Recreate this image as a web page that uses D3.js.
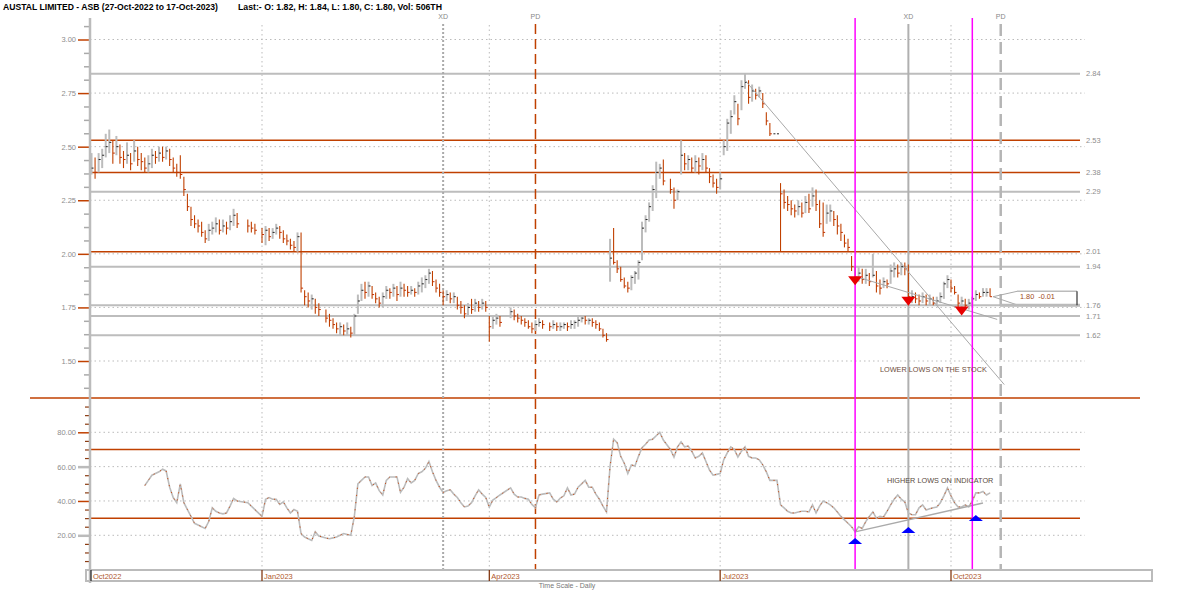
<!DOCTYPE html>
<html><head><meta charset="utf-8">
<script src="https://cdn.jsdelivr.net/npm/d3@7"></script>
<style>body{margin:0;background:#fff}svg{display:block}text{font-family:"Liberation Sans",Arial,sans-serif}</style>
</head><body><svg id="c" width="1200" height="590"></svg>
<script>
// ---------------- DATA ----------------
const startDate = "2022-10-27", endDate = "2023-10-17";
const holidays = ["2022-12-26","2022-12-27","2023-01-02","2023-01-26","2023-04-07","2023-04-10","2023-04-25","2023-06-12"];
const closes = [
 2.40,2.38,2.44,
 2.46,2.50,2.52,2.47,2.50,2.45,2.44,2.46,2.42,2.48,2.44,2.43,2.40,2.42,2.46,2.45,2.47,2.45,2.48,2.44,2.40,2.38,
 2.37,2.30,2.22,2.16,2.14,2.13,2.10,2.07,2.11,2.12,2.14,2.11,2.13,2.12,2.15,2.18,2.14,2.13,2.12,2.11,
 2.09,2.11,2.08,2.10,2.12,2.10,2.07,2.06,2.04,2.03,2.08,1.84,1.80,1.78,1.79,1.75,1.74,1.70,1.69,1.67,
 1.65,1.66,1.64,1.65,1.63,1.71,1.78,1.83,1.82,1.85,1.81,1.79,1.77,1.80,1.83,1.82,1.84,1.81,1.84,1.83,
 1.82,1.83,1.82,1.85,1.86,1.88,1.91,1.87,1.84,1.82,1.80,1.81,1.79,1.80,1.76,1.75,1.72,1.75,1.74,1.77,1.75,1.77,1.75,
 1.66,1.69,1.70,1.68,1.73,1.71,1.70,1.69,1.68,1.66,1.65,1.67,1.68,1.67,1.66,1.67,1.66,
 1.66,1.67,1.66,1.67,1.68,1.69,1.70,1.69,1.69,1.68,1.67,1.65,1.62,1.60,1.98,1.96,1.93,1.88,1.85,1.84,1.89,1.91,1.96,
 2.12,2.16,2.22,2.30,2.38,2.40,2.34,2.30,2.25,2.29,2.46,2.42,2.44,2.40,2.43,2.41,2.44,2.40,2.36,2.33,2.31,
 2.35,2.50,2.61,2.64,2.71,2.63,2.78,2.80,2.73,2.76,2.74,2.76,2.70,2.62,2.56,2.56,2.56,2.28,2.24,2.23,2.21,
 2.20,2.22,2.19,2.24,2.21,2.27,2.23,2.14,2.10,2.19,2.20,2.16,2.13,2.10,2.05,2.03,1.94,1.89,1.91,1.88,1.90,1.87,1.90,
 1.85,1.84,1.87,1.86,1.92,1.93,1.91,1.94,1.93,1.80,1.80,1.79,1.78,1.80,1.78,1.79,1.77,1.78,1.80,1.86,1.88,
 1.84,1.82,1.77,1.78,1.76,1.77,1.79,1.81,1.80,1.82,1.82,1.80];
const highs = [
 2.47,2.45,2.47,
 2.49,2.56,2.58,2.53,2.55,2.51,2.48,2.52,2.47,2.53,2.50,2.47,2.45,2.46,2.49,2.48,2.50,2.50,2.50,2.49,2.45,2.42,
 2.46,2.36,2.28,2.22,2.18,2.16,2.15,2.11,2.14,2.15,2.17,2.16,2.16,2.15,2.18,2.21,2.19,2.16,2.15,2.14,
 2.12,2.13,2.12,2.12,2.14,2.13,2.11,2.09,2.07,2.06,2.10,2.10,1.83,1.82,1.81,1.79,1.77,1.74,1.72,1.70,
 1.68,1.68,1.67,1.68,1.66,1.72,1.81,1.86,1.87,1.87,1.85,1.82,1.80,1.82,1.85,1.84,1.86,1.85,1.87,1.86,
 1.85,1.85,1.84,1.87,1.89,1.90,1.93,1.92,1.88,1.86,1.83,1.83,1.82,1.82,1.80,1.78,1.76,1.77,1.79,1.79,1.78,1.79,1.78,
 1.71,1.71,1.72,1.71,1.75,1.74,1.72,1.71,1.70,1.69,1.68,1.69,1.70,1.69,1.68,1.69,1.68,
 1.68,1.68,1.68,1.69,1.69,1.71,1.71,1.71,1.70,1.70,1.69,1.68,1.65,1.63,2.07,2.12,1.97,1.94,1.89,1.87,1.90,1.92,1.97,
 2.15,2.18,2.24,2.32,2.43,2.42,2.44,2.35,2.31,2.30,2.53,2.47,2.46,2.45,2.46,2.45,2.47,2.46,2.40,2.37,2.35,
 2.38,2.53,2.63,2.67,2.74,2.70,2.81,2.84,2.81,2.79,2.77,2.78,2.75,2.66,2.61,2.56,2.56,2.33,2.30,2.27,2.25,
 2.23,2.25,2.24,2.27,2.28,2.31,2.30,2.25,2.24,2.23,2.23,2.20,2.18,2.14,2.09,2.07,1.99,1.94,1.94,1.93,1.93,1.91,2.00,
 1.92,1.88,1.89,1.88,1.95,1.96,1.95,1.96,1.96,1.95,1.83,1.82,1.81,1.82,1.81,1.81,1.80,1.80,1.82,1.87,1.90,
 1.88,1.85,1.81,1.80,1.79,1.79,1.80,1.83,1.82,1.84,1.84,1.84];
const lows = [
 2.37,2.35,2.38,
 2.40,2.45,2.47,2.42,2.46,2.42,2.40,2.42,2.39,2.43,2.41,2.39,2.38,2.38,2.40,2.42,2.43,2.43,2.44,2.41,2.38,2.36,
 2.35,2.27,2.20,2.13,2.12,2.10,2.08,2.05,2.06,2.09,2.10,2.09,2.10,2.09,2.11,2.13,2.12,2.10,2.10,2.09,
 2.05,2.04,2.06,2.07,2.09,2.07,2.05,2.04,2.02,2.01,2.01,1.82,1.76,1.75,1.74,1.72,1.71,1.68,1.66,1.65,
 1.63,1.62,1.62,1.62,1.61,1.62,1.72,1.78,1.79,1.80,1.79,1.77,1.75,1.75,1.79,1.79,1.80,1.78,1.80,1.80,
 1.80,1.81,1.80,1.81,1.82,1.84,1.86,1.85,1.82,1.80,1.76,1.78,1.77,1.77,1.74,1.72,1.70,1.71,1.72,1.73,1.73,1.74,1.73,
 1.59,1.65,1.67,1.66,1.70,1.69,1.68,1.67,1.66,1.65,1.63,1.64,1.66,1.65,1.64,1.65,1.64,
 1.64,1.65,1.64,1.65,1.65,1.66,1.68,1.67,1.67,1.66,1.65,1.64,1.61,1.59,1.87,1.95,1.91,1.87,1.84,1.82,1.83,1.86,1.88,
 1.97,2.10,2.15,2.20,2.26,2.35,2.32,2.28,2.21,2.25,2.37,2.39,2.39,2.38,2.38,2.37,2.39,2.38,2.33,2.31,2.28,
 2.30,2.46,2.48,2.56,2.65,2.60,2.67,2.77,2.70,2.71,2.72,2.73,2.68,2.60,2.55,2.56,2.56,2.01,2.21,2.20,2.18,
 2.17,2.18,2.17,2.19,2.19,2.22,2.20,2.12,2.08,2.14,2.15,2.13,2.09,2.06,2.03,2.01,1.92,1.87,1.87,1.86,1.86,1.85,1.89,
 1.82,1.81,1.84,1.84,1.86,1.89,1.89,1.90,1.90,1.76,1.77,1.77,1.76,1.77,1.76,1.76,1.76,1.76,1.77,1.79,1.84,
 1.82,1.81,1.75,1.75,1.74,1.74,1.75,1.78,1.79,1.80,1.80,1.80];
const rsiStart = "2022-11-17";
const rsi = [
 49,52,55,56,57,58.5,57.5,48,42,39,
 50,39,35,31,27,26,25,24,28,36,34,33,32.5,33,37,41.5,40,39,37,35,
 31,41,42,41,41,38,39.5,36,33,35,34,21,19,18,17,22,19.6,18.4,18,18.5,
 19,20,21,20.5,20,31,50,52,54,54,49,50.5,46,43.5,52,54,54,54,45,48,
 53,50.5,52,56,57,59,63,57,52,48,45,46,46.5,44,42,39,36.5,37,39,43,46.5,44,42,
 36.5,40.5,42,43.5,47.6,44,42.3,42.3,41.5,41,38,36,43.5,44,44.7,41,39.4,
 41.7,43,47.6,43.5,44,48,50,52,48,48,44,41,37,33.6,60,76,74,66,62,56,61,60.4,66,
 71,73,75.5,76,78,80,75.5,70,65.6,71.5,74.4,71.5,72,69,65,66,68,63,58,55,55.5,
 56,64,68,71.5,70,65.6,69,71.5,66,65,65,64,61,57,52,52,52,37.7,36,34,33,
 33,33.6,34,34,33.6,37.7,33,37,40,39,37.7,36,33.6,31,29,27,25,22,25,24,28,31,33.6,
 30,31,30.7,34,37.7,41,43.5,41,39.4,33,32,32,36,37.7,34.7,35.5,36,36.5,39,43,47.6,
 43,39,36.5,36.5,37.7,36.5,40,44.7,44.7,45.5,43.5,44.7];
const priceTicks = [3.00,2.75,2.50,2.25,2.00,1.75,1.50];
const rsiTicks = [80,60,40,20];
const levelsGrey = [2.84,2.29,1.94,1.76,1.71,1.62];
const levelsOrange = [2.53,2.38,2.01];
const rsiLevels = [70,30];
const monthTicks = [["2022-10-27","Oct2022"],["2023-01-03","Jan2023"],["2023-04-03","Apr2023"],["2023-07-03","Jul2023"],["2023-10-02","Oct2023"]];
const events = [["2023-03-15","XD","xdDot"],["2023-04-20","PD","pdOrange"],["2023-09-14","XD","xdSolid"],["2023-10-20","PD","pdGrey"]];
const magentaDates = ["2023-08-24","2023-10-10"];
const redTriangles = [["2023-08-24",1.895],["2023-09-14",1.80],["2023-10-05",1.754]];
const blueTriangles = [["2023-08-24",15],["2023-09-14",21.4],["2023-10-11",28.3]];
const downTrend = [["2023-07-12",2.81],["2023-10-23",1.39]];
const lowerLows = [["2023-08-24",1.895],["2023-10-19",1.694]];
const higherLows = [["2023-08-24",22],["2023-10-13",38.8]];
const title = "AUSTAL LIMITED - ASB (27-Oct-2022 to 17-Oct-2023)";
const lastText = "Last:- O: 1.82, H: 1.84, L: 1.80, C: 1.80, Vol: 506TH";
const lastTag = "1.80  -0.01";

// ---------------- HELPERS ----------------
const parse = d3.utcParse("%Y-%m-%d");
const t0 = parse(startDate);
function wd(ds){
  const d = typeof ds === "string" ? parse(ds) : ds;
  let n = 0, c = t0;
  while (c < d){ const g = c.getUTCDay(); if (g!==0 && g!==6) n++; c = d3.utcDay.offset(c,1); }
  return n;
}
const hol = new Set(holidays);
const fmt = d3.utcFormat("%Y-%m-%d");
const days = [];
for (let c = t0; c <= parse(endDate); c = d3.utcDay.offset(c,1)){
  const g = c.getUTCDay();
  if (g===0||g===6||hol.has(fmt(c))) continue;
  days.push(c);
}
const x = d3.scaleLinear().domain([wd("2023-01-03"), wd("2023-10-02")]).range([262, 951]);
const X = d => x(wd(d));
const yP = d3.scaleLinear().domain([1.5, 3.0]).range([361, 39.5]);
const yR = d3.scaleLinear().domain([20, 80]).range([535.3, 432.3]);

const svg = d3.select("#c");
const ORANGE = "#c04000", GREY = "#bdbdbd";
const L = 90, R = 1080;

const defs = svg.append("defs");
defs.append("clipPath").attr("id","cp").append("rect").attr("x",L).attr("y",18).attr("width",1000).attr("height",378);
defs.append("clipPath").attr("id","cr").append("rect").attr("x",L).attr("y",400).attr("width",1000).attr("height",168);

// title
svg.append("text").attr("x",3).attr("y",10).attr("font-size",9).attr("font-weight",600).attr("textLength",215).attr("lengthAdjust","spacingAndGlyphs").text(title);
svg.append("text").attr("x",238).attr("y",10).attr("font-size",9).attr("font-weight",600).attr("textLength",204).attr("lengthAdjust","spacingAndGlyphs").text(lastText);

// dotted grids
const grid = svg.append("g").attr("stroke","#bbb").attr("stroke-width",1).attr("stroke-dasharray","1.5,3");
priceTicks.forEach(v => grid.append("line").attr("x1",L).attr("x2",R+5).attr("y1",yP(v)).attr("y2",yP(v)));
rsiTicks.forEach(v => grid.append("line").attr("x1",L).attr("x2",R+5).attr("y1",yR(v)).attr("y2",yR(v)));
monthTicks.slice(1).forEach(m => grid.append("line").attr("x1",X(m[0])).attr("x2",X(m[0])).attr("y1",25).attr("y2",569));

// level lines
levelsGrey.forEach(v => svg.append("line").attr("x1",L).attr("x2",R).attr("y1",yP(v)).attr("y2",yP(v)).attr("stroke",GREY).attr("stroke-width",2));
levelsOrange.forEach(v => svg.append("line").attr("x1",L).attr("x2",R).attr("y1",yP(v)).attr("y2",yP(v)).attr("stroke",ORANGE).attr("stroke-width",1.5));
rsiLevels.forEach(v => svg.append("line").attr("x1",L).attr("x2",R).attr("y1",yR(v)).attr("y2",yR(v)).attr("stroke",ORANGE).attr("stroke-width",1.5));
[...levelsGrey, ...levelsOrange].forEach(v => svg.append("text").attr("x",1086).attr("y",yP(v)).attr("dy","0.35em").attr("font-size",7.5).attr("fill","#8d8d8d").text(v.toFixed(2)));

// separator
svg.append("line").attr("x1",30).attr("x2",1140).attr("y1",398).attr("y2",398).attr("stroke",ORANGE).attr("stroke-width",1.5);

// event lines
const evStyle = {xdDot:{c:"#aaa",w:2,d:"2,2"}, pdOrange:{c:ORANGE,w:1.5,d:"10,5"}, xdSolid:{c:"#b0b0b0",w:2,d:null}, pdGrey:{c:"#b5b5b5",w:2.5,d:"12,6"}};
events.forEach(e => {
  const s = evStyle[e[2]], xx = X(e[0]);
  svg.append("line").attr("x1",xx).attr("x2",xx).attr("y1",24).attr("y2",570).attr("stroke",s.c).attr("stroke-width",s.w).attr("stroke-dasharray",s.d);
  svg.append("text").attr("x",xx).attr("y",19).attr("text-anchor","middle").attr("font-size",7).attr("fill","#888").text(e[1]);
});

// price bars
const gp = svg.append("g").attr("clip-path","url(#cp)");
days.forEach((d,i) => {
  if (i >= closes.length) return;
  const xx = x(wd(d));
  const up = i===0 ? true : closes[i] >= closes[i-1];
  gp.append("line").attr("x1",xx).attr("x2",xx).attr("y1",yP(highs[i])).attr("y2",yP(lows[i]))
    .attr("stroke", up ? "#bcbcbc" : ORANGE).attr("stroke-width", up ? 2 : 1.1);
  gp.append("line").attr("x1",xx).attr("x2",xx+2).attr("y1",yP(closes[i])).attr("y2",yP(closes[i]))
    .attr("stroke", up ? "#222" : "#c03000").attr("stroke-width",1);
});

// trend lines (price)
const tl = (pts, sc, col, w) => svg.append("line").attr("x1",X(pts[0][0])).attr("y1",sc(pts[0][1])).attr("x2",X(pts[1][0])).attr("y2",sc(pts[1][1])).attr("stroke",col).attr("stroke-width",w);
tl(downTrend, yP, "#a8a8a8", 1);
tl(lowerLows, yP, "#a8a8a8", 1);

// RSI line
const gr = svg.append("g").attr("clip-path","url(#cr)");
const i0 = days.findIndex(d => fmt(d) === rsiStart);
const rpts = rsi.map((v,k) => [x(wd(days[i0+k])), yR(v)]).filter((p,k) => days[i0+k]);
const line = d3.line();
gr.append("path").attr("d", line(rpts)).attr("fill","none").attr("stroke","#bcbcbc").attr("stroke-width",1.6);
gr.append("path").attr("d", line(rpts)).attr("fill","none").attr("stroke","#c8501a").attr("stroke-width",1).attr("stroke-dasharray","1.2,6");
tl(higherLows, yR, "#aaa", 1.5);

// magenta lines
magentaDates.forEach(m => svg.append("line").attr("x1",X(m)).attr("x2",X(m)).attr("y1",18).attr("y2",569).attr("stroke","#ff00ff").attr("stroke-width",1.5));

// triangles
redTriangles.forEach(t => { const xx = X(t[0]), yy = yP(t[1]);
  svg.append("path").attr("d",`M${xx-7},${yy}L${xx+7},${yy}L${xx},${yy+9}Z`).attr("fill","#e80000"); });
blueTriangles.forEach(t => { const xx = X(t[0]), yy = yR(t[1]);
  svg.append("path").attr("d",`M${xx-7},${yy}L${xx+7},${yy}L${xx},${yy-6}Z`).attr("fill","#0000ff"); });

// annotations
svg.append("text").attr("x",880).attr("y",372).attr("font-size",7.3).attr("fill","#6e4c3c").text("LOWER LOWS ON THE STOCK");
svg.append("text").attr("x",887).attr("y",483).attr("font-size",7.3).attr("fill","#5a4a40").text("HIGHER LOWS ON INDICATOR");

// last price tag
const lc = closes[closes.length-1], lx = x(wd(days[closes.length-1])) + 3, ly = yP(lc);
svg.append("path").attr("d",`M${lx},${ly}L1017,${yP(1.825)}M${lx},${ly}L1017,${yP(1.762)}`).attr("stroke","#aaa").attr("fill","none");
svg.append("line").attr("x1",1017).attr("x2",1077).attr("y1",yP(1.825)).attr("y2",yP(1.825)).attr("stroke","#bbb").attr("stroke-width",1.5);
svg.append("line").attr("x1",1000).attr("x2",1080).attr("y1",yP(1.76)).attr("y2",yP(1.76)).attr("stroke","#bbb").attr("stroke-width",3);
svg.append("line").attr("x1",1077).attr("x2",1077).attr("y1",yP(1.825)).attr("y2",yP(1.76)).attr("stroke","#333").attr("stroke-width",1.2);
svg.append("text").attr("x",1020).attr("y",ly).attr("dy","0.35em").attr("font-size",7.3).attr("fill","#a04a20").attr("xml:space","preserve").text(lastTag);

// axes
const ax = svg.append("g").attr("transform",`translate(${L},0)`);
const minorP = d3.range(1.375, 3.07, 0.0625).filter(v => Math.abs((v*4)-Math.round(v*4))>0.01);
ax.append("g").call(d3.axisLeft(yP).tickValues(minorP).tickSize(6).tickFormat("")).call(g=>{g.select(".domain").remove();g.selectAll("line").attr("stroke","#aaa").attr("stroke-width",1.5);});
ax.append("g").call(d3.axisLeft(yP).tickValues(priceTicks).tickSize(12).tickPadding(2).tickFormat(d3.format(".2f")))
  .call(g=>{g.select(".domain").remove();g.selectAll("line").attr("stroke",ORANGE).attr("stroke-width",1.5);g.selectAll("text").attr("font-size",7.5).attr("fill","#8d8d8d").attr("font-family",null);});
const minorR = d3.range(5, 100, 5).filter(v => v%20!==0);
ax.append("g").call(d3.axisLeft(yR).tickValues(minorR).tickSize(5).tickFormat("")).call(g=>{g.select(".domain").remove();g.selectAll("line").attr("stroke","#8a3a10").attr("stroke-width",1.2);});
ax.append("g").call(d3.axisLeft(yR).tickValues(rsiTicks).tickSize(12).tickPadding(2).tickFormat(d3.format(".2f")))
  .call(g=>{g.select(".domain").remove();g.selectAll("line").attr("stroke",(d)=> d%40===0 ? ORANGE : "#bbb").attr("stroke-width",(d)=> d%40===0 ? 1.5 : 2.5);g.selectAll("text").attr("font-size",7.5).attr("fill","#8d8d8d").attr("font-family",null);});
svg.append("line").attr("x1",L).attr("x2",L).attr("y1",18).attr("y2",583).attr("stroke","#bbb").attr("stroke-width",2.5);

// time axis box
svg.append("rect").attr("x",86).attr("y",570).attr("width",1066).attr("height",11).attr("fill","none").attr("stroke","#bbb").attr("stroke-width",2);
monthTicks.forEach((m,k) => {
  const xx = k===0 ? 91 : X(m[0]);
  svg.append("line").attr("x1",xx).attr("x2",xx).attr("y1",570).attr("y2",581).attr("stroke",k===0?"#222":"#7a2a00").attr("stroke-width",1.2);
  svg.append("text").attr("x",xx+2).attr("y",578.5).attr("font-size",7.5).attr("fill","#b0582e").text(m[1]);
});
svg.append("text").attr("x",567).attr("y",588).attr("text-anchor","middle").attr("font-size",7).attr("fill","#777").text("Time Scale - Daily");
</script></body></html>
